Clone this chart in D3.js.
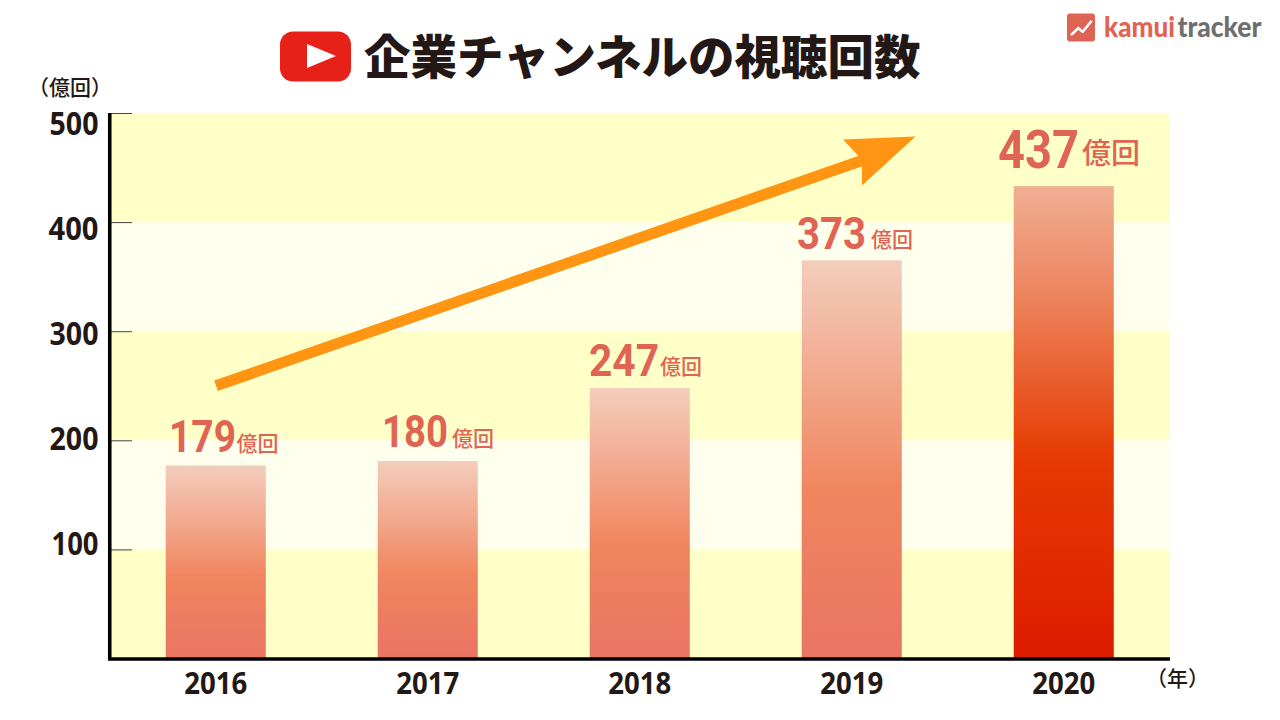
<!DOCTYPE html>
<html><head><meta charset="utf-8">
<script src="https://cdn.jsdelivr.net/npm/d3@7/dist/d3.min.js"></script>
<style>html,body{margin:0;padding:0;background:#fff}svg{display:block}</style></head>
<body><div id="c"></div>
<script>
const years=["2016","2017","2018","2019","2020"];
const labelValues=[179,180,247,373,437];
const barValues=[177,181,248,365,433];
const yTicks=[100,200,300,400,500];
const bandValues=[[0,100],[100,200],[200,300],[300,400],[400,500]];
const bandColors=["#ffffc8","#ffffee","#ffffc8","#ffffee","#ffffc8"];
const palePalette=["#f3cdbc","#f0855f","#ea7463"];
const paleStops=[0,0.58,1];
const strongPalette=["#f0ae94","#ec8058","#e63a00","#dc1c00"];
const strongStops=[0,0.25,0.58,1];
const arrowShaft=[[2016,250],[2019.04,456]];
const arrowHead=[[2019.30,478.4],[2018.958,475.7],[2019.028,461],[2019.047,451],[2019.047,433.5]];
const W=1280,H=720;
const svg=d3.select("#c").append("svg").attr("width",W).attr("height",H);
const jp='"Noto Sans CJK JP"';
const ink="#231815", coral="#e06454";
const y=d3.scaleLinear().domain([0,500]).range([658.5,113]);
const x=d3.scaleBand().domain(years).range([109.75,1169.75]).paddingInner(0.528).paddingOuter(0.264);
const xc=d3.scaleLinear().domain([2016,2020]).range([216,1064]);
const defs=svg.append("defs");
[["pale",palePalette,paleStops],["strong",strongPalette,strongStops]].forEach(([id,p,s])=>{
 const g=defs.append("linearGradient").attr("id",id).attr("x1",0).attr("x2",0).attr("y1",0).attr("y2",1);
 g.selectAll("stop").data(p).enter().append("stop").attr("offset",(d,i)=>s[i]).attr("stop-color",d=>d);
});
function fit(sel,px,py,width){
 sel.attr("transform",function(){
  const n=this.getComputedTextLength();
  return `translate(${px},${py}) scale(${width/n},1)`;
 });
 return sel;
}
// bands
svg.selectAll("rect.band").data(bandValues).enter().append("rect").attr("class","band")
 .attr("x",110).attr("width",1060).attr("y",d=>y(d[1])).attr("height",d=>y(d[0])-y(d[1]))
 .attr("fill",(d,i)=>bandColors[i]);
// bars
svg.selectAll("rect.bar").data(years).enter().append("rect").attr("class","bar")
 .attr("x",d=>x(d)).attr("width",x.bandwidth())
 .attr("y",(d,i)=>y(barValues[i])).attr("height",(d,i)=>y(0)-y(barValues[i]))
 .attr("fill",(d,i)=>i==4?"url(#strong)":"url(#pale)");
// ticks
const yAxis=d3.axisRight(y).tickValues(yTicks).tickSize(22).tickFormat("");
const gy=svg.append("g").attr("transform","translate(110,0)").call(yAxis);
gy.select(".domain").remove();
gy.selectAll("line").attr("stroke","#444").attr("stroke-width",1);
// y labels (the source sets them at an even step of their own, slightly off the ticks)
const yLabelBase=[555,450,345,240,135], yLabelW=[47,49,49,50,49];
yTicks.forEach((d,i)=>{
 svg.append("text").attr("class","yl").attr("font-family",'"Open Sans"').attr("font-weight",700).attr("font-size",32).attr("fill",ink).text(d)
  .call(fit,98.5-yLabelW[i],yLabelBase[i],yLabelW[i]);
});
// axis lines
svg.append("path").attr("d",d3.line()([[109.75,113],[109.75,659],[1170,659]])).attr("fill","none").attr("stroke","#000").attr("stroke-width",3.6);
// x labels
years.forEach(d=>{
 svg.append("text").attr("class","xl").attr("font-family",'"Open Sans"').attr("font-weight",700).attr("font-size",31).attr("fill",ink).text(d)
  .call(fit,x(d)+x.bandwidth()/2-31.5,694,63);
});
svg.append("text").attr("x",1177.5).attr("y",686).attr("text-anchor","middle").attr("font-family",jp).attr("font-weight",500).attr("font-size",21).attr("fill",ink).text("（年）");
svg.append("text").attr("x",70).attr("y",95).attr("text-anchor","middle").attr("font-family",jp).attr("font-weight",500).attr("font-size",21).attr("fill",ink).text("（億回）");
// arrow
const ap=([a,b])=>[xc(a),y(b)];
svg.append("path").attr("d",d3.line()(arrowShaft.map(ap))).attr("stroke","#ff9512").attr("stroke-width",11).attr("fill","none");
svg.append("path").attr("d",d3.line()(arrowHead.map(ap))+"Z").attr("fill","#ff9512");
// value labels
const nx=[169,382,589,797,998], nw=[67,66,70,69,81], ky=[451.5,447,376,249,167.5], nf=[44,44,44,44,54], uf=[21,21,21,21,29], ux=[236.5,452,660,871,1082], uy=[451,446,374,247,164];
years.forEach((d,i)=>{
 svg.append("text").attr("class","vl").attr("font-family","Roboto").attr("font-weight",700).attr("font-size",nf[i]).attr("fill",coral).text(labelValues[i])
  .call(fit,nx[i],ky[i],nw[i]);
 svg.append("text").attr("class","vu").attr("x",ux[i]).attr("y",uy[i]).attr("font-family",jp).attr("font-weight",500).attr("font-size",uf[i]).attr("fill",coral).text("億回");
});
// title
svg.append("rect").attr("x",280).attr("y",31.5).attr("width",71).attr("height",50).attr("rx",13).attr("fill","#e8201a");
svg.append("path").attr("d","M307,44L336,56L307,68Z").attr("fill","#fff");
svg.append("text").attr("x",364).attr("y",74).attr("font-family",jp).attr("font-weight",900).attr("font-size",46.5).attr("fill",ink).text("企業チャンネルの視聴回数");
// logo
svg.append("rect").attr("x",1067).attr("y",13.5).attr("width",28).attr("height",28).attr("rx",3).attr("fill",coral);
svg.append("path").attr("d","M1071,35L1078.3,28.3L1082.7,31.7L1091.7,20.7").attr("fill","none").attr("stroke","#fff").attr("stroke-width",2.6);
svg.append("text").attr("font-family","Lato").attr("font-weight",900).attr("font-size",28).attr("fill",coral).text("kamui").call(fit,1104,37,71);
svg.append("text").attr("font-family","Lato").attr("font-weight",900).attr("font-size",28).attr("fill","#6e6e6e").text("tracker").call(fit,1177.5,37,84);
</script></body></html>
